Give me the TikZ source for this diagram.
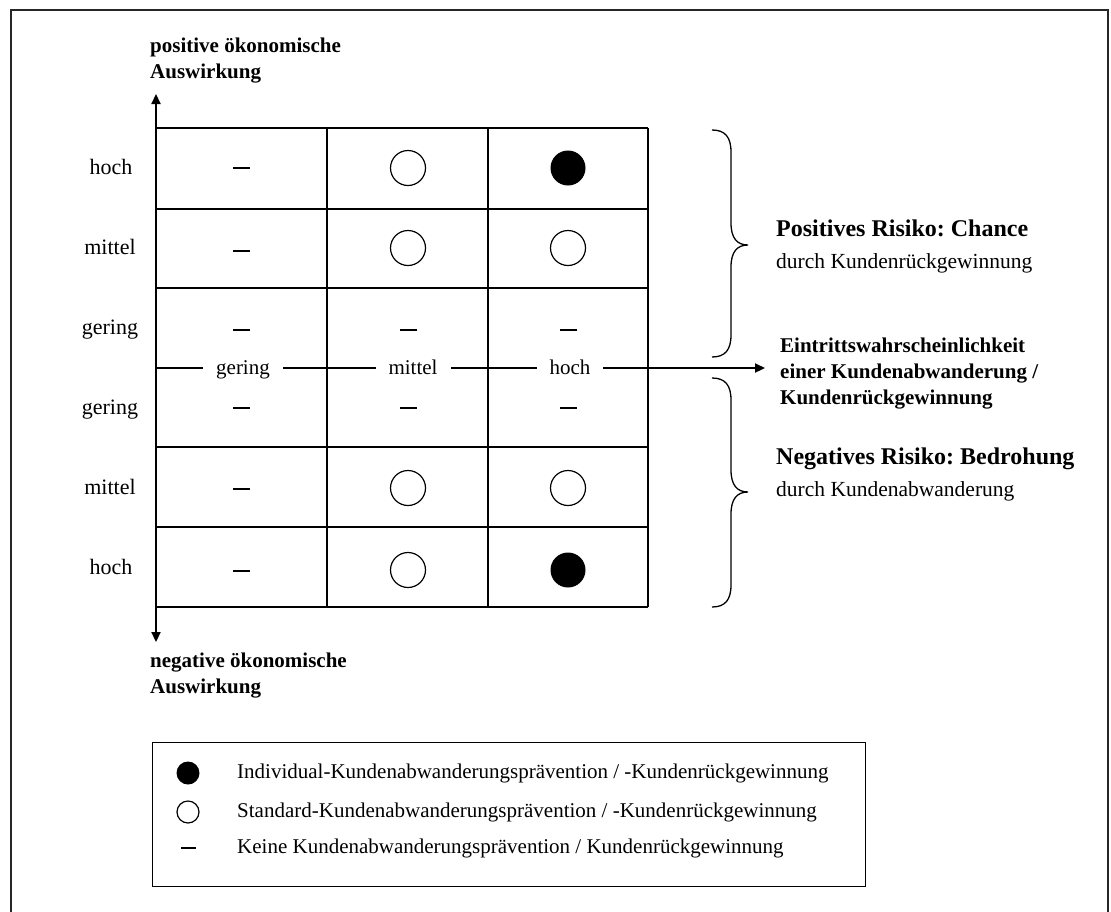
\documentclass[tikz,border=0pt]{standalone}
\usepackage{fontspec}
\setmainfont{Liberation Serif}
\usetikzlibrary{arrows.meta}
\frenchspacing

\begin{document}
\begin{tikzpicture}[x=1pt,y=-1pt,
  frame/.style={line width=2pt,draw=black!85},
  gridline/.style={line width=1.3pt},
  axisline/.style={line width=2.2pt},
  tip/.style={-{Triangle[length=10pt,width=9pt]}},
  bracepath/.style={line width=1.3pt},
  txt/.style={font=\fontsize{21}{26}\selectfont,inner sep=0pt},
  rowlabel/.style={font=\fontsize{22}{26}\selectfont,inner sep=0pt,anchor=base},
  bold/.style={font=\bfseries\fontsize{21}{26}\selectfont,inner sep=0pt,align=left},
  ticklabel/.style={txt,fill=white,inner xsep=13pt,inner ysep=4pt,anchor=base},
  caption/.style={font=\fontsize{21.5}{32}\selectfont,inner sep=0pt,anchor=west,align=left},
  openmark/.style={circle,draw,line width=1.2pt,minimum size=35pt,inner sep=0pt},
  fullmark/.style={circle,fill=black,minimum size=35pt,inner sep=0pt},
  nomark/.style={rectangle,fill=black,minimum width=17pt,minimum height=2.2pt,inner sep=0pt},
  keyopen/.style={openmark,minimum size=22pt},
  keyfull/.style={fullmark,minimum size=23pt},
  keynone/.style={nomark,minimum width=15pt}
]
\useasboundingbox (0,0) rectangle (1111,911);

% outer frame (open at the bottom of the page)
\draw[frame] (11,912) -- (11,9.5) -- (1108,9.5) -- (1108,912);

% axis end points
\coordinate (ytop) at (156,94);
\coordinate (ybot) at (156,642);
\coordinate (xorig) at (156,368);
\coordinate (xend) at (765,368);

% matrix grid
\draw[gridline] (156,128) -- (648,128);
\draw[gridline] (156,209) -- (648,209);
\draw[gridline] (156,288) -- (648,288);
\draw[gridline] (156,447) -- (648,447);
\draw[gridline] (156,527) -- (648,527);
\draw[gridline] (156,607) -- (648,607);
\draw[gridline] (327,128) -- (327,607);
\draw[gridline] (488,128) -- (488,607);
\draw[gridline] (648,128) -- (648,607);

% axes
\draw[axisline,tip] (xorig) -- (xend);
\draw[axisline,{Triangle[length=10pt,width=9pt]}-{Triangle[length=10pt,width=9pt]}] (ybot) -- (ytop);

% probability labels on the horizontal axis
\node[ticklabel] (pg) at (243,374) {gering};
\node[ticklabel] (pm) at (413,374) {mittel};
\node[ticklabel] (ph) at (570,374) {hoch};

% impact labels on the vertical axis
\node[rowlabel] (r1) at (111,174) {hoch};
\node[rowlabel] (r2) at (110,254) {mittel};
\node[rowlabel] (r3) at (110,334) {gering};
\node[rowlabel] (r4) at (110,414) {gering};
\node[rowlabel] (r5) at (110,494) {mittel};
\node[rowlabel] (r6) at (111,574) {hoch};

% axis titles
\node[bold,anchor=west] (ptitle) at (150,61) {positive ökonomische\\Auswirkung};
\node[bold,anchor=west] (ntitle) at (150,676) {negative ökonomische\\Auswirkung};
\node[bold,anchor=west] (xtitle) at (780,374) {Eintrittswahrscheinlichkeit\\einer Kundenabwanderung /\\Kundenrückgewinnung};

% cell entries, upper half (chance)
\node[nomark] (a11) at (241,168) {};
\node[openmark] (a12) at (408,168) {};
\node[fullmark] (a13) at (568,168) {};
\node[nomark] (a21) at (241,251) {};
\node[openmark] (a22) at (408,248) {};
\node[openmark] (a23) at (568,248) {};
\node[nomark] (a31) at (241,330) {};
\node[nomark] (a32) at (408,330) {};
\node[nomark] (a33) at (568,330) {};
% cell entries, lower half (threat)
\node[nomark] (b11) at (241,408) {};
\node[nomark] (b12) at (408,408) {};
\node[nomark] (b13) at (568,408) {};
\node[nomark] (b21) at (241,489) {};
\node[openmark] (b22) at (408,488) {};
\node[openmark] (b23) at (568,488) {};
\node[nomark] (b31) at (241,571) {};
\node[openmark] (b32) at (408,570) {};
\node[fullmark] (b33) at (568,570) {};

% braces
\draw[bracepath] (712,130) .. controls (725,130) and (731,137) .. (731,152) -- (731,223)
  .. controls (731,238) and (737,245) .. (748,245)
  .. controls (737,245) and (731,252) .. (731,267) -- (731,335)
  .. controls (731,350) and (725,357) .. (712,357);
\draw[bracepath] (712,378) .. controls (725,378) and (731,385) .. (731,400) -- (731,470)
  .. controls (731,485) and (737,492) .. (748,492)
  .. controls (737,492) and (731,499) .. (731,514) -- (731,585)
  .. controls (731,600) and (725,607) .. (712,607);

% brace captions
\node[caption] (chance) at (776,246)
  {{\bfseries\fontsize{24}{32}\selectfont Positives Risiko: Chance}\\durch Kundenrückgewinnung};
\node[caption] (threat) at (776,474)
  {{\bfseries\fontsize{24}{32}\selectfont Negatives Risiko: Bedrohung}\\durch Kundenabwanderung};

% legend
\node[draw,line width=1.3pt,minimum width=713pt,minimum height=144pt,inner sep=0pt,anchor=north west] (legend) at (152,742) {};
\node[keyfull] (k1) at (188,773) {};
\node[keyopen] (k2) at (188,812) {};
\node[keynone] (k3) at (188,848) {};
\node[txt,anchor=west] (t1) at (237,773) {Individual-Kundenabwanderungsprävention / -Kundenrückgewinnung};
\node[txt,anchor=west] (t2) at (237,812) {Standard-Kundenabwanderungsprävention / -Kundenrückgewinnung};
\node[txt,anchor=west] (t3) at (237,848) {Keine Kundenabwanderungsprävention / Kundenrückgewinnung};
\end{tikzpicture}
\end{document}
